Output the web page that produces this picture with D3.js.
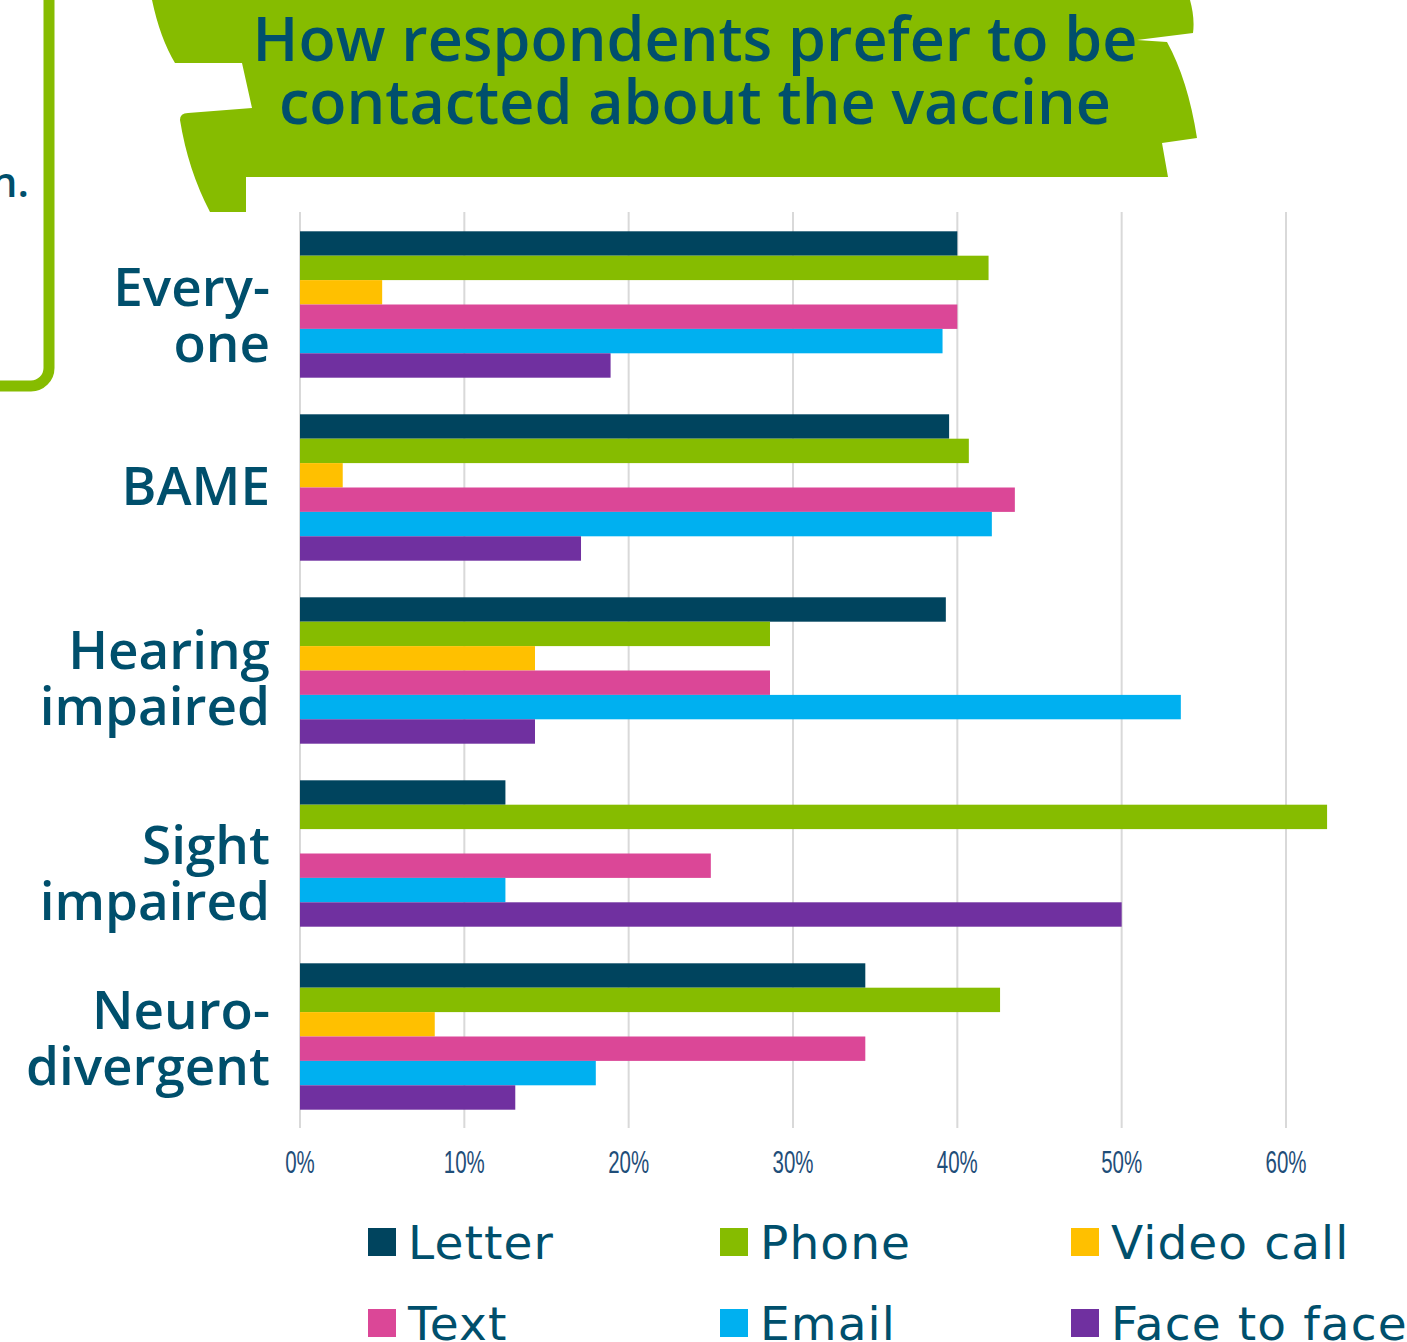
<!DOCTYPE html>
<html>
<head>
<meta charset="utf-8">
<script src="https://cdn.jsdelivr.net/npm/d3@7"></script>
<style>
  html, body { margin: 0; padding: 0; background: #fff; }
  svg { display: block; }
</style>
</head>
<body>
<svg id="chart" width="1407" height="1342"></svg>
<script>
// Survey results: share of respondents preferring each contact method
const groups = ["Everyone", "BAME", "Hearing impaired", "Sight impaired", "Neurodivergent"];
const groupLines = [["Every-", "one"], ["BAME"], ["Hearing", "impaired"], ["Sight", "impaired"], ["Neuro-", "divergent"]];
const methods = ["Letter", "Phone", "Video call", "Text", "Email", "Face to face"];
const colors = ["#00445e", "#86bc00", "#ffc000", "#db4797", "#00b0f0", "#7030a0"];

const letter     = [40.0, 39.5, 39.3, 12.5, 34.4];
const phone      = [41.9, 40.7, 28.6, 62.5, 42.6];
const videoCall  = [5.0,  2.6,  14.3, 0.0,  8.2];
const text       = [40.0, 43.5, 28.6, 25.0, 34.4];
const email      = [39.1, 42.1, 53.6, 12.5, 18.0];
const faceToFace = [18.9, 17.1, 14.3, 50.0, 13.1];
const series = [letter, phone, videoCall, text, email, faceToFace];

const ticks = [0, 10, 20, 30, 40, 50, 60];
const title = ["How respondents prefer to be", "contacted about the vaccine"];

const ink = "#004f6c";
const svg = d3.select("#chart");

// Side panel edge (rounded green frame)
svg.append("rect")
  .attr("x", -100).attr("y", -100)
  .attr("width", 149).attr("height", 486)
  .attr("rx", 18).attr("ry", 18)
  .attr("fill", "none").attr("stroke", "#86bc00").attr("stroke-width", 11);
svg.append("text")
  .attr("x", 29).attr("y", 197)
  .attr("text-anchor", "end")
  .attr("font-family", "Open Sans, sans-serif").attr("font-weight", 600)
  .attr("font-size", 42).attr("fill", ink)
  .text("n.");

// Title banner
svg.append("path")
  .attr("fill", "#86bc00")
  .attr("d", "M152,0 L1190,0 Q1195,18 1193,33 L1137,40 L1167,42 Q1188,80 1197,138 L1162,143 L1168,177 L246,177 L246,212 L210,212 Q188,170 180,120 Q180,113 188,113 L252,108 L242,63 L175,63 Q160,38 152,0 Z");

const titleText = svg.append("g");
title.forEach((line, i) => {
  titleText.append("text")
    .attr("x", 695).attr("y", 61 + i * 63)
    .attr("text-anchor", "middle")
    .attr("font-family", "Open Sans, sans-serif").attr("font-weight", 600)
    .attr("font-size", 61).attr("fill", ink)
    .text(line);
});
// fit the title lines to the banner width
const firstWidth = titleText.select("text").node().getComputedTextLength();
const titleScale = 885 / firstWidth;
titleText.selectAll("text").attr("transform", `translate(${695 * (1 - titleScale)},0) scale(${titleScale},1)`);

// Scales
const x = d3.scaleLinear().domain([0, 60]).range([300, 1286]);
const y0 = d3.scaleBand().domain(groups).range([213, 1128]).paddingInner(0.2).paddingOuter(0.1);
const y1 = d3.scaleBand().domain(methods).range([0, y0.bandwidth()]);

// Gridlines
svg.append("g").selectAll("line")
  .data(ticks).join("line")
  .attr("x1", d => x(d)).attr("x2", d => x(d))
  .attr("y1", 212).attr("y2", 1128)
  .attr("stroke", "#d9d9d9").attr("stroke-width", 2);

// Bars
const barData = [];
groups.forEach((g, gi) => methods.forEach((m, mi) => barData.push({ g, m, mi, v: series[mi][gi] })));
svg.append("g").selectAll("rect")
  .data(barData.filter(d => d.v > 0)).join("rect")
  .attr("x", x(0))
  .attr("y", d => y0(d.g) + y1(d.m))
  .attr("width", d => x(d.v) - x(0))
  .attr("height", y1.bandwidth())
  .attr("fill", d => colors[d.mi]);

// Tick labels
const tickG = svg.append("g");
ticks.forEach(t => {
  tickG.append("text")
    .attr("transform", `translate(${x(t)},1173) scale(0.66,1)`)
    .attr("text-anchor", "middle")
    .attr("font-family", "Liberation Sans Narrow, Liberation Sans, sans-serif")
    .attr("font-size", 31).attr("fill", "#1f4e79")
    .text(d3.format("d")(t) + "%");
});

// Group labels (vertical nudge per label block)
const labelNudge = [0, 0, -3, 9, -9];
const labelG = svg.append("g");
groups.forEach((g, gi) => {
  const c = y0(g) + y0.bandwidth() / 2;
  const lines = groupLines[gi];
  const base = (lines.length === 1 ? c + 17 : c + 1) + labelNudge[gi];
  lines.forEach((ln, li) => {
    labelG.append("text")
      .attr("x", 270).attr("y", base + li * 56)
      .attr("text-anchor", "end")
      .attr("font-family", "Open Sans, sans-serif").attr("font-weight", 600)
      .attr("font-size", 53).attr("fill", ink)
      .text(ln);
  });
});

// Legend
const legendX = [368, 720, 1071];
const legendY = [1228, 1309];
const legend = svg.append("g");
methods.forEach((m, i) => {
  const lx = legendX[i % 3], ly = legendY[Math.floor(i / 3)];
  legend.append("rect")
    .attr("x", lx).attr("y", ly).attr("width", 28).attr("height", 28)
    .attr("fill", colors[i]);
  legend.append("text")
    .attr("x", lx + 40).attr("y", ly + 31)
    .attr("font-family", "DejaVu Sans, sans-serif")
    .attr("font-size", 47).attr("letter-spacing", 1.1).attr("fill", ink)
    .text(m);
});
</script>
</body>
</html>
